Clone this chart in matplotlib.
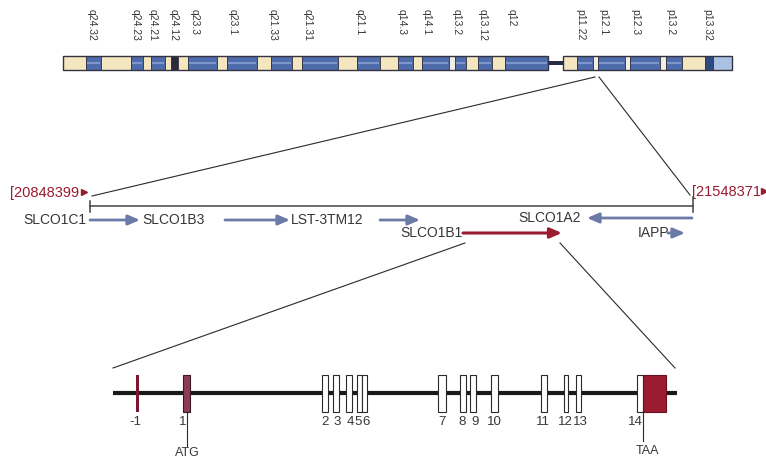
import matplotlib.pyplot as plt
from matplotlib.patches import Rectangle

plt.rcParams['font.family'] = ['Liberation Sans', 'DejaVu Sans']

# chromosome bands: start, end, stain
band_start = [63, 86, 101, 131, 143, 151, 165, 171, 178, 188, 217, 227, 257, 271, 292, 302, 338, 357,
              380, 398, 413, 422, 449, 455, 466, 478, 492, 505,
              563, 577, 593, 598, 625, 630, 660, 666, 682, 705, 713]
band_end = [86, 101, 131, 143, 151, 165, 171, 178, 188, 217, 227, 257, 271, 292, 302, 338, 357, 380,
            398, 413, 422, 449, 455, 466, 478, 492, 505, 548,
            577, 593, 598, 625, 630, 660, 666, 682, 705, 713, 732]
band_kind = ['c', 'b', 'c', 'b', 'c', 'b', 'c', 'k', 'c', 'b', 'c', 'b', 'c', 'b', 'c', 'b', 'c', 'b',
             'c', 'b', 'c', 'b', 'w', 'b', 'c', 'b', 'c', 'b',
             'c', 'b', 'w', 'b', 'w', 'b', 'w', 'b', 'c', 'd', 'l']
centromere = (548, 563)

band_names = ['q24.32', 'q24.23', 'q24.21', 'q24.12', 'q23.3', 'q23.1', 'q21.33', 'q21.31', 'q21.1',
              'q14.3', 'q14.1', 'q13.2', 'q13.12', 'q12', 'p11.22', 'p12.1', 'p12.3', 'p13.2', 'p13.32']
band_label_x = [92, 136, 153, 174, 195, 233, 273, 308, 360, 402, 427, 457, 483, 512,
                580, 603, 635, 670, 707]

# region view
region_left = '[20848399'
region_right = '[21548371'
gene_names = ['SLCO1C1', 'SLCO1B3', 'LST-3TM12', 'SLCO1A2', 'SLCO1B1', 'IAPP']
gene_from = [90, 225, 380, 692, 463, 668]
gene_to = [140, 290, 420, 587, 562, 685]
gene_text_x = [86, 142, 291, 518, 400, 638]
gene_row = [220, 220, 220, 218, 233, 233]

# SLCO1B1 exons
exon_names = ['-1', '1', '2', '3', '4', '5', '6', '7', '8', '9', '10', '11', '12', '13', '14']
exon_start = [135.5, 183, 322, 333, 346, 357, 362, 438, 460, 470, 491, 541, 564, 576, 637]
exon_end = [138.5, 190, 328, 339, 352, 362, 367, 446, 466, 476, 498, 547, 568, 581, 666]
exon_label_x = [135, 183, 325, 337, 350, 358, 366, 442, 462, 475, 494, 543, 565, 580, 635]
utr_start = 643  # 3' UTR of exon 14

red = '#9b1b30'
slate = '#6b7aa6'
ink = '#2a2a2a'
txt = '#363636'
stain = {'c': '#f4e7bf', 'b': '#4e6cab', 'w': '#f3efe2', 'k': '#2b2b3b',
         'd': '#2f4a82', 'l': '#a9c1e2'}

fig = plt.figure(figsize=(7.66, 4.59), dpi=100)
ax = fig.add_axes([0, 0, 1, 1])
ax.set_xlim(0, 766)
ax.set_ylim(459, 0)
ax.axis('off')

# chromosome ideogram
top, bot = 56, 70
for s, e, k in zip(band_start, band_end, band_kind):
    ax.add_patch(Rectangle((s, top), e - s, bot - top, fc=stain[k], ec='#333344', lw=0.6))
    if k == 'b':
        ax.plot([s + 1, e - 1], [63, 63], color='#7d97cc', lw=1.5, solid_capstyle='butt')
ax.add_patch(Rectangle((band_start[0], top), centromere[0] - band_start[0], bot - top,
                       fc='none', ec='#333344', lw=1))
ax.add_patch(Rectangle((centromere[1], top), band_end[-1] - centromere[1], bot - top,
                       fc='none', ec='#333344', lw=1))
ax.add_patch(Rectangle((centromere[0], 61), centromere[1] - centromere[0], 4,
                       fc='#2a2a45', ec='none'))
for name, x in zip(band_names, band_label_x):
    ax.text(x, 9, name, rotation=-90, ha='center', va='top', fontsize=7.5, color=txt)

# zoom lines to region
ax.plot([595, 92], [77, 196], color=ink, lw=0.8)
ax.plot([599, 690], [77, 195], color=ink, lw=0.8)

# region axis
ax.plot([gene_from[0], 693], [206, 206], color='#444444', lw=1.1)
ax.plot([90, 90], [201, 212], color='#444444', lw=1.1)
ax.plot([693, 693], [197, 212], color='#444444', lw=1.1)
ax.text(10, 193, region_left, ha='left', va='center', fontsize=10.5, color=red)
ax.plot([84], [192], marker='>', ms=4.5, color=red)
ax.text(692, 192, region_right, ha='left', va='center', fontsize=10.5, color=red)
ax.plot([764], [191], marker='>', ms=4.5, color=red)

for i, name in enumerate(gene_names):
    col = red if name == 'SLCO1B1' else slate
    ha = 'right' if i == 0 else 'left'
    ax.text(gene_text_x[i], gene_row[i], name, ha=ha, va='center', fontsize=10, color=txt)
    ax.annotate('', xy=(gene_to[i], gene_row[i]), xytext=(gene_from[i], gene_row[i]),
                arrowprops=dict(arrowstyle='-|>,head_length=0.7,head_width=0.3', color=col,
                                lw=2.2 if col == red else 2, shrinkA=0, shrinkB=0))

# zoom lines to gene
ax.plot([465, 113], [243, 368], color=ink, lw=0.8)
ax.plot([560, 675], [243, 368], color=ink, lw=0.8)

# gene structure
ax.plot([113, 677], [393, 393], color='#1a1a1a', lw=3, solid_capstyle='butt', zorder=1)
etop, ebot = 375, 412
for i, (s, e) in enumerate(zip(exon_start, exon_end)):
    if i == 0:
        ax.add_patch(Rectangle((s, etop), e - s, ebot - etop, fc='#7a1830', ec='none', zorder=2))
    elif i == 1:
        ax.add_patch(Rectangle((s, etop), e - s, ebot - etop, fc='#8c3d55', ec='#3a1a22',
                               lw=0.8, zorder=2))
    elif i == len(exon_start) - 1:
        ax.add_patch(Rectangle((s, etop), utr_start - s, ebot - etop, fc='white', ec=ink,
                               lw=0.8, zorder=2))
        ax.add_patch(Rectangle((utr_start, etop), e - utr_start, ebot - etop, fc=red,
                               ec='#6a1020', lw=0.8, zorder=2))
    else:
        ax.add_patch(Rectangle((s, etop), e - s, ebot - etop, fc='white', ec=ink,
                               lw=0.8, zorder=2))
for name, x in zip(exon_names, exon_label_x):
    ax.text(x, 422, name, ha='center', va='center', fontsize=9.5, color=txt)

# start and stop codons
ax.plot([187, 187], [412, 446], color=ink, lw=0.8)
ax.text(187, 447, 'ATG', ha='center', va='top', fontsize=9, color=txt)
ax.plot([643, 643], [412, 441], color=ink, lw=0.8)
ax.text(647, 445, 'TAA', ha='center', va='top', fontsize=9, color=txt)

fig.savefig('out.png', dpi=100)
